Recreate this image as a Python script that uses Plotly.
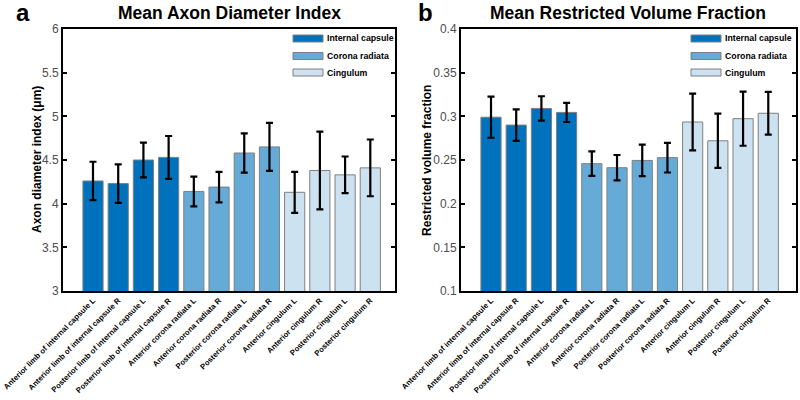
import plotly.graph_objects as go

regions = ["Anterior limb of internal capsule L", "Anterior limb of internal capsule R",
           "Posterior limb of internal capsule L", "Posterior limb of internal capsule R",
           "Anterior corona radiata L", "Anterior corona radiata R",
           "Posterior corona radiata L", "Posterior corona radiata R",
           "Anterior cingulum L", "Anterior cingulum R",
           "Posterior cingulum L", "Posterior cingulum R"]
groups = ["Internal capsule"] * 4 + ["Corona radiata"] * 4 + ["Cingulum"] * 4
group_names = ["Internal capsule", "Corona radiata", "Cingulum"]
group_colors = {"Internal capsule": "#0072BD", "Corona radiata": "#66AAD7", "Cingulum": "#CCE2F1"}

axon_mean = [4.26, 4.23, 4.50, 4.53, 4.14, 4.19, 4.58, 4.65, 4.13, 4.38, 4.33, 4.41]
axon_err = [0.22, 0.22, 0.20, 0.245, 0.17, 0.175, 0.225, 0.275, 0.235, 0.445, 0.21, 0.325]
rvf_mean = [0.299, 0.290, 0.309, 0.3045, 0.2458, 0.2412, 0.2495, 0.2527, 0.2935, 0.272, 0.2973, 0.3035]
rvf_err = [0.0235, 0.018, 0.014, 0.011, 0.014, 0.0145, 0.018, 0.017, 0.0325, 0.031, 0.031, 0.0245]

axon_ticks = [3, 3.5, 4, 4.5, 5, 5.5, 6]
rvf_ticks = [0.1, 0.15, 0.2, 0.25, 0.3, 0.35, 0.4]

FONT = "Liberation Sans, Arial, sans-serif"
W, H = 800, 400


def px(p):
    return p / W


def py(p):
    return 1 - p / H


fig = go.Figure()
idx = list(range(len(regions)))
for xa, ya, means, errs in [("x", "y", axon_mean, axon_err), ("x2", "y2", rvf_mean, rvf_err)]:
    fig.add_trace(go.Bar(
        x=idx, y=means, width=0.8,
        marker=dict(color=[group_colors[g] for g in groups], line=dict(color="#7f7f7f", width=1)),
        error_y=dict(type="data", array=errs, color="black", thickness=2.2, width=3.5),
        xaxis=xa, yaxis=ya, showlegend=False,
    ))

dom_a = [px(63), px(395)]
dom_b = [px(461), px(796)]
ydom = [py(291), py(29)]

xcommon = dict(tickmode="array", tickvals=idx, ticktext=regions, tickangle=-45,
               showline=True, linewidth=2, linecolor="black", mirror=True,
               ticks="", showgrid=False, zeroline=False, automargin=False,
               tickfont=dict(family=FONT, size=7.75, color="black", weight="bold"))
ycommon = dict(showline=True, linewidth=2, linecolor="black", mirror="ticks",
               ticks="inside", ticklen=4, tickwidth=1.5, tickcolor="black",
               showgrid=False, zeroline=False, automargin=False,
               tickfont=dict(family=FONT, size=12, color="#4d4d4d"))

fig.update_layout(
    width=W, height=H, margin=dict(l=0, r=0, t=0, b=0),
    plot_bgcolor="white", paper_bgcolor="white",
    bargap=0.2,
    xaxis=dict(domain=dom_a, range=[-1.19, 11.98], anchor="y", **xcommon),
    xaxis2=dict(domain=dom_b, range=[-1.19, 12.1], anchor="y2", **xcommon),
    yaxis=dict(domain=ydom, range=[3, 6], anchor="x", tickvals=axon_ticks,
               ticktext=["3", "3.5", "4", "4.5", "5", "5.5", "6"], **ycommon),
    yaxis2=dict(domain=ydom, range=[0.1, 0.4], anchor="x2", tickvals=rvf_ticks,
                ticktext=["0.1", "0.15", "0.2", "0.25", "0.3", "0.35", "0.4"], **ycommon),
)


def ann(text, x, y, size, **kw):
    d = dict(text=text, x=x, y=y, xref="paper", yref="paper", showarrow=False,
             xanchor="center", yanchor="middle", font=dict(family=FONT, size=size, color="black"))
    d.update(kw)
    return d


anns = [
    ann("<b>Mean Axon Diameter Index</b>", px(229), py(13), 17.5),
    ann("<b>Mean Restricted Volume Fraction</b>", px(628), py(13), 17.5),
    ann("<b>a</b>", px(23), py(13), 24),
    ann("<b>b</b>", px(425), py(13), 24),
    ann("<b>Axon diameter index (μm)</b>", px(37), py(160), 12, textangle=-90),
    ann("<b>Restricted volume fraction</b>", px(427), py(160), 12, textangle=-90),
]

shapes = []
rows = [38.5, 56, 72.5]
for sx0, sx1, tx in [(293, 323, 325), (691, 721, 723)]:
    for g, yy in zip(group_names, rows):
        shapes.append(dict(type="rect", xref="paper", yref="paper",
                           x0=px(sx0), x1=px(sx1), y0=py(yy + 3.5), y1=py(yy - 3.5),
                           fillcolor=group_colors[g], line=dict(color="#7f7f7f", width=1)))
        anns.append(ann("<b>" + g + "</b>", px(tx), py(yy), 8.75, xanchor="left"))

fig.update_layout(annotations=anns, shapes=shapes)
fig.write_html("out.html", config={"displayModeBar": False},
               post_script="document.body.style.margin='0px';")
